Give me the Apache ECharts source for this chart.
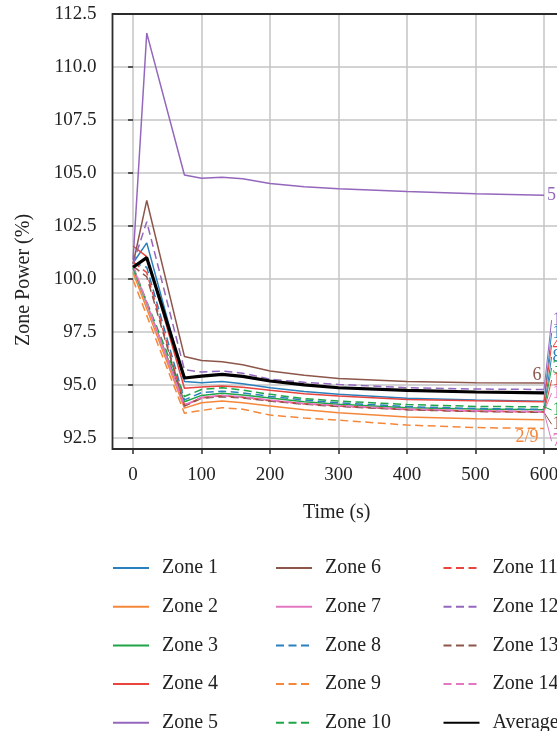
<!DOCTYPE html>
<html><head><meta charset="utf-8">
<script src="https://cdn.jsdelivr.net/npm/echarts@6/dist/echarts.min.js"></script>
<style>html,body{margin:0;padding:0;background:#fff}#c{width:557px;height:731px}</style>
</head><body><div id="c"></div>
<script>
// ---- data ----
const TIME = [0, 20, 75, 100, 130, 160, 200, 250, 300, 400, 500, 600];
const Z1  = [100.75, 101.7, 95.15, 95.1, 95.15, 95.05, 94.86, 94.68, 94.55, 94.36, 94.28, 94.22];
const Z2  = [100.3, null, 93.9, 94.15, 94.23, 94.15, 94.0, 93.82, 93.68, 93.48, 93.4, 93.35];
const Z3  = [100.5, null, 94.2, 94.5, 94.6, 94.52, 94.38, 94.2, 94.08, 93.92, 93.86, 93.82];
const Z4  = [101.55, 101.05, 94.84, 94.9, 94.94, 94.88, 94.74, 94.58, 94.47, 94.31, 94.25, 94.2];
const Z5  = [100.9, 111.6, 104.9, 104.75, 104.8, 104.72, 104.5, 104.35, 104.25, 104.12, 104.02, 103.95];
const Z6  = [100.7, 103.7, 96.34, 96.15, 96.09, 95.95, 95.65, 95.45, 95.3, 95.15, 95.1, 95.08];
const Z7  = [100.6, null, 94.0, 94.4, 94.5, 94.42, 94.27, 94.1, 94.0, 93.84, 93.75, 93.72];
const Z8  = [100.75, 100.55, 94.29, 94.63, 94.7, 94.62, 94.45, 94.28, 94.15, 93.97, 93.88, 93.84];
const Z9  = [99.95, null, 93.66, 93.79, 93.92, 93.85, 93.57, 93.43, 93.33, 93.1, 92.98, 92.94];
const Z10 = [100.55, null, 94.45, 94.78, 94.86, 94.75, 94.55, 94.35, 94.23, 94.07, 93.98, 93.96];
const Z11 = [100.8, 100.3, 94.05, 94.38, 94.48, 94.4, 94.25, 94.1, 94.0, 93.84, 93.76, 93.72];
const Z12 = [100.7, 102.7, 95.71, 95.6, 95.65, 95.55, 95.26, 95.12, 95.02, 94.86, 94.8, 94.78];
const Z13 = [100.6, 100.1, 94.0, 94.36, 94.44, 94.38, 94.23, 94.08, 93.98, 93.82, 93.74, 93.7];
const Z14 = [100.65, null, 94.05, 94.4, 94.5, 94.42, 94.28, 94.12, 94.02, 93.86, 93.78, 93.74];
const AVG = [100.55, 101.0, 95.32, 95.41, 95.49, 95.4, 95.18, 95.0, 94.86, 94.74, 94.66, 94.62];
const SERIES_NAMES = ['Zone 1','Zone 2','Zone 3','Zone 4','Zone 5','Zone 6','Zone 7','Zone 8','Zone 9','Zone 10','Zone 11','Zone 12','Zone 13','Zone 14','Average'];
// end-of-line annotation labels (zone number -> label height in %)
const FAN_ZONES  = [12, 1, 4, 8, 3, 11, 14, 10, 13, 7];
const FAN_VALUES = [98.05, 97.44, 96.87, 96.31, 95.79, 95.22, 94.61, 93.81, 93.14, 92.34];
const FAN_T = 611;
const Y_TICKS_MIN = 92.5, Y_TICKS_MAX = 112.5, Y_STEP = 2.5;
const Y_MIN = 91.97, X_MIN = -30, X_MAX = 700, X_STEP = 100;

// ---- styles ----
const C = {blue:'#2a80bd', orange:'#f5873a', green:'#1fa548', red:'#e9443e', purple:'#9467bd', brown:'#8c564b', pink:'#e377c2'};
const VALUES = [Z1,Z2,Z3,Z4,Z5,Z6,Z7,Z8,Z9,Z10,Z11,Z12,Z13,Z14,AVG];
const COLORS = [C.blue,C.orange,C.green,C.red,C.purple,C.brown,C.pink,C.blue,C.orange,C.green,C.red,C.purple,C.brown,C.pink,'#000'];
const DASHED = [0,0,0,0,0,0,0,1,1,1,1,1,1,1,0];
const FONT = 'Liberation Serif';
const DASH = [8, 4.5];

// pixel frame
const L = 112.5, TOP = 14, BOT = 449;
const PX = 0.685; // px per second
const y925 = BOT - (Y_TICKS_MIN - Y_MIN) * (BOT - TOP) / (Y_TICKS_MAX - Y_MIN);

const series = [];
VALUES.forEach((arr, i) => {
  const s = {
    name: SERIES_NAMES[i], type: 'line', xAxisIndex: 1, yAxisIndex: 1,
    data: TIME.map((t, k) => [t, arr[k]]), connectNulls: true,
    symbol: 'none', showSymbol: false, silent: true,
    lineStyle: {color: COLORS[i], width: i === 14 ? 3.2 : 1.5, type: DASHED[i] ? DASH : 'solid'},
    itemStyle: {color: COLORS[i]},
    z: i === 14 ? 5 : 3
  };
  if (i === 4) {
    s.endLabel = {show: true, formatter: '5', distance: 3, color: COLORS[i], fontFamily: FONT, fontSize: 18};
  }
  if (i === 5 || i === 8) {
    s.markPoint = {
      symbol: 'circle', symbolSize: 0.1, silent: true, itemStyle: {color: 'rgba(0,0,0,0)'},
      data: [{coord: [TIME[TIME.length-1], arr[arr.length-1]]}],
      label: {show: true, position: 'inside', formatter: i === 5 ? '6' : '2/9',
        offset: i === 5 ? [-7, -8] : [-17, 9], color: COLORS[i], fontFamily: FONT, fontSize: 18}
    };
  }
  series.push(s);
});
FAN_ZONES.forEach((z, j) => {
  const arr = VALUES[z - 1];
  series.push({
    name: 'lbl' + z, type: 'line', xAxisIndex: 1, yAxisIndex: 1, silent: true,
    data: [[TIME[TIME.length-1], arr[arr.length-1]], [FAN_T, FAN_VALUES[j]]],
    symbol: 'none', showSymbol: false,
    lineStyle: {color: COLORS[z - 1], width: 1},
    endLabel: {show: true, formatter: String(z), distance: 1, color: COLORS[z - 1], fontFamily: FONT, fontSize: 18}
  });
});

const legendCols = [0, 1, 2].map(c => ({
  data: SERIES_NAMES.slice(c * 5, c * 5 + 5),
  orient: 'vertical', left: [112, 275, 442.5][c], top: 558, padding: 0, height: 260,
  itemWidth: 36, itemHeight: 20, itemGap: 18.7, selectedMode: false,
  itemStyle: {color: 'rgba(0,0,0,0)', borderColor: 'rgba(0,0,0,0)', borderWidth: 0, opacity: 0},
  textStyle: {fontFamily: FONT, fontSize: 20, color: '#222', padding: [0, 0, 0, 8]}
}));

const gridBase = {outerBoundsMode: 'none', containLabel: false};
const chart = echarts.init(document.getElementById('c'), null, {renderer: 'canvas'});
chart.setOption({
  animation: false,
  backgroundColor: '#fff',
  grid: [
    // frame
    Object.assign({left: L, top: TOP, width: (X_MAX - X_MIN) * PX, height: BOT - TOP, show: true, borderColor: '#2b2b2b', borderWidth: 1.8, z: 4}, gridBase),
    // data + x ticks
    Object.assign({left: L - X_MIN * PX, top: TOP, width: X_MAX * PX, height: BOT - TOP}, gridBase),
    // y ticks
    Object.assign({left: L, top: TOP, width: (X_MAX - X_MIN) * PX, height: y925 - TOP}, gridBase)
  ],
  xAxis: [
    {gridIndex: 0, type: 'value', min: X_MIN, max: X_MAX, show: false},
    {gridIndex: 1, type: 'value', min: 0, max: X_MAX, interval: X_STEP,
      axisLine: {show: false},
      axisTick: {show: true, length: 5, lineStyle: {color: '#2b2b2b', width: 1.5}},
      axisLabel: {margin: 17, fontFamily: FONT, fontSize: 19, color: '#222'},
      splitLine: {show: true, lineStyle: {color: '#c4c4c4', width: 1.5}}},
    {gridIndex: 2, type: 'value', min: X_MIN, max: X_MAX, show: false}
  ],
  yAxis: [
    {gridIndex: 0, type: 'value', min: Y_MIN, max: Y_TICKS_MAX, show: false},
    {gridIndex: 1, type: 'value', min: Y_MIN, max: Y_TICKS_MAX, show: false},
    {gridIndex: 2, type: 'value', min: Y_TICKS_MIN, max: Y_TICKS_MAX, interval: Y_STEP,
      axisLine: {show: false},
      axisTick: {show: true, length: 5, lineStyle: {color: '#2b2b2b', width: 1.5}},
      axisLabel: {margin: 16, fontFamily: FONT, fontSize: 19, color: '#222', formatter: v => v.toFixed(1)},
      splitLine: {show: true, lineStyle: {color: '#c4c4c4', width: 1.5}}}
  ],
  legend: legendCols,
  graphic: [
    {type: 'text', x: 24, y: 280, rotation: Math.PI / 2,
      style: {text: 'Zone Power (%)', font: '20px "Liberation Serif"', fill: '#222', textAlign: 'center', textVerticalAlign: 'middle'}},
    {type: 'text', x: 336.7, y: 513,
      style: {text: 'Time (s)', font: '20px "Liberation Serif"', fill: '#222', textAlign: 'center', textVerticalAlign: 'middle'}}
  ],
  series: series
});
</script></body></html>
